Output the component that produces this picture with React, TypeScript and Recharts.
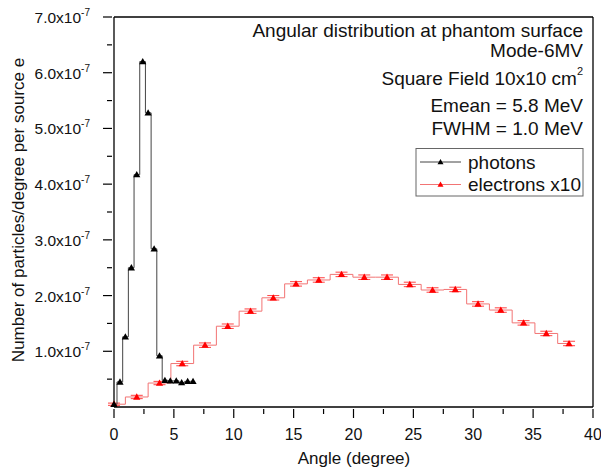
import React from "react";
import { LineChart, Line, XAxis, YAxis, ErrorBar } from "recharts";

// photons: angle (deg) and counts (particles/degree per source electron)
const photonAngles = [0, 0.5, 0.95, 1.45, 1.9, 2.4, 2.85, 3.35, 3.8, 4.25, 4.7, 5.2, 5.65, 6.15, 6.6];
const photonCounts = [
  0.05e-7, 0.45e-7, 1.26e-7, 2.5e-7, 4.17e-7, 6.2e-7, 5.28e-7, 2.84e-7,
  0.92e-7, 0.48e-7, 0.47e-7, 0.47e-7, 0.44e-7, 0.46e-7, 0.46e-7,
];

// electrons (already multiplied by 10 in the source plot)
const electronAngles = [
  0, 1.9, 3.8, 5.7, 7.6, 9.5, 11.4, 13.3, 15.2, 17.1, 19.0,
  20.9, 22.8, 24.7, 26.6, 28.5, 30.4, 32.3, 34.2, 36.1, 38.0,
];
const electronCounts = [
  0.05e-7, 0.18e-7, 0.43e-7, 0.78e-7, 1.11e-7, 1.45e-7, 1.72e-7, 1.96e-7, 2.21e-7, 2.28e-7, 2.38e-7,
  2.33e-7, 2.33e-7, 2.2e-7, 2.1e-7, 2.11e-7, 1.85e-7, 1.74e-7, 1.51e-7, 1.32e-7, 1.14e-7,
];
const electronErrors = [
  0.02e-7, 0.03e-7, 0.03e-7, 0.04e-7, 0.04e-7, 0.04e-7, 0.04e-7, 0.04e-7, 0.04e-7, 0.04e-7, 0.04e-7,
  0.04e-7, 0.04e-7, 0.04e-7, 0.04e-7, 0.04e-7, 0.04e-7, 0.04e-7, 0.04e-7, 0.04e-7, 0.04e-7,
];

const xTicks = [0, 2.5, 5, 7.5, 10, 12.5, 15, 17.5, 20, 22.5, 25, 27.5, 30, 32.5, 35, 37.5, 40];
const yTicks = [
  0.5e-7, 1e-7, 1.5e-7, 2e-7, 2.5e-7, 3e-7, 3.5e-7, 4e-7,
  4.5e-7, 5e-7, 5.5e-7, 6e-7, 6.5e-7, 7e-7,
];

const annotations = [
  "Angular distribution at phantom surface",
  "Mode-6MV",
  "Square Field 10x10 cm",
  "Emean = 5.8 MeV",
  "FWHM = 1.0 MeV",
];

const photonData = photonAngles.map((a, i) => ({ x: a, y: photonCounts[i] }));
const electronData = electronAngles.map((a, i) => ({ x: a, y: electronCounts[i], err: electronErrors[i] }));

const FONT = "'Liberation Sans', Arial, sans-serif";
const PHOTON_LINE = "#444";
const ELECTRON_LINE = "#f27474";

const isMajorX = (v: number) => v % 5 === 0;
const isMajorY = (v: number) => Math.round(v * 1e8) % 10 === 0;

const tri = (cx: number, cy: number, s = 3.6) =>
  `M${cx},${cy - s} L${cx + s},${cy + s * 0.75} L${cx - s},${cy + s * 0.75} Z`;

const makeDot = (fill: string) => (p: any) => {
  if (p.cx == null || p.cy == null) return <g key={p.key ?? p.index} />;
  return <path key={p.key ?? p.index} d={tri(p.cx, p.cy)} fill={fill} stroke="none" />;
};

const BottomTick = (props: any) => {
  const { x, y, payload } = props;
  const major = isMajorX(payload.value);
  return (
    <g>
      <line x1={x} x2={x} y1={y} y2={y + (major ? 9 : 5)} stroke="#000" strokeWidth={1.2} />
      {major && (
        <text x={x} y={y + 31} textAnchor="middle" fontSize={16} fill="#111" fontFamily={FONT}>
          {payload.value}
        </text>
      )}
    </g>
  );
};

const TopTick = (props: any) => {
  const { x, y, payload } = props;
  const major = isMajorX(payload.value);
  return <line x1={x} x2={x} y1={y} y2={y + (major ? 9 : 5)} stroke="#000" strokeWidth={1.2} />;
};

const LeftTick = (props: any) => {
  const { x, y, payload } = props;
  const major = isMajorY(payload.value);
  const mant = (payload.value * 1e7).toFixed(1);
  return (
    <g>
      <line x1={x - (major ? 9 : 5)} x2={x} y1={y} y2={y} stroke="#000" strokeWidth={1.2} />
      {major && (
        <text x={x - 22} y={y + 6} textAnchor="end" fontSize={15.5} fill="#111" fontFamily={FONT}>
          {mant}x10
          <tspan dy={-7} fontSize={10}>-7</tspan>
        </text>
      )}
    </g>
  );
};

const RightTick = (props: any) => {
  const { x, y, payload } = props;
  const major = isMajorY(payload.value);
  return <line x1={x - (major ? 9 : 5)} x2={x} y1={y} y2={y} stroke="#000" strokeWidth={1.2} />;
};

export default function App() {
  return (
    <div style={{ position: "relative", width: 601, height: 470, background: "#fff", fontFamily: FONT }}>
      <style>{`body{margin:0}`}</style>
      <LineChart width={601} height={470} margin={{ top: 0, right: 0, bottom: 0, left: 0 }}>
        <XAxis
          xAxisId="bottom"
          dataKey="x"
          type="number"
          domain={[0, 40]}
          ticks={xTicks}
          interval={0}
          height={63}
          tickSize={0}
          tickLine={false}
          tick={<BottomTick />}
          axisLine={{ stroke: "#000", strokeWidth: 1.3 }}
          allowDuplicatedCategory={false}
        />
        <XAxis
          xAxisId="top"
          orientation="top"
          dataKey="x"
          type="number"
          domain={[0, 40]}
          ticks={xTicks}
          interval={0}
          height={17}
          tickSize={0}
          tickLine={false}
          tick={<TopTick />}
          axisLine={{ stroke: "#000", strokeWidth: 1.3 }}
        />
        <YAxis
          yAxisId="left"
          type="number"
          domain={[0, 7e-7]}
          ticks={yTicks}
          interval={0}
          width={114}
          tickSize={0}
          tickLine={false}
          tick={<LeftTick />}
          axisLine={{ stroke: "#000", strokeWidth: 1.3 }}
        />
        <YAxis
          yAxisId="right"
          orientation="right"
          type="number"
          domain={[0, 7e-7]}
          ticks={yTicks}
          interval={0}
          width={8}
          tickSize={0}
          tickLine={false}
          tick={<RightTick />}
          axisLine={{ stroke: "#000", strokeWidth: 1.3 }}
        />
        <Line
          xAxisId="bottom"
          yAxisId="left"
          data={electronData}
          dataKey="y"
          type="step"
          stroke={ELECTRON_LINE}
          strokeWidth={1}
          dot={makeDot("#ff0000")}
          activeDot={false}
          isAnimationActive={false}
        >
          <ErrorBar dataKey="err" width={6} stroke="#ff4040" strokeWidth={1} direction="y" isAnimationActive={false} />
        </Line>
        <Line
          xAxisId="bottom"
          yAxisId="left"
          data={photonData}
          dataKey="y"
          type="step"
          stroke={PHOTON_LINE}
          strokeWidth={1}
          dot={makeDot("#000")}
          activeDot={false}
          isAnimationActive={false}
        />
      </LineChart>
      <svg
        width={601}
        height={470}
        style={{ position: "absolute", left: 0, top: 0, pointerEvents: "none" }}
        fontFamily={FONT}
      >
        {/* axis titles */}
        <text x={24} y={210} transform="rotate(-90 24 210)" textAnchor="middle" fontSize={17} fill="#111">
          Number of particles/degree per source e
        </text>
        <text x={354} y={464} textAnchor="middle" fontSize={17} fill="#111">
          Angle (degree)
        </text>
        {/* annotation block */}
        <text x={583} y={37} textAnchor="end" fontSize={19} fill="#111">{annotations[0]}</text>
        <text x={583} y={57} textAnchor="end" fontSize={19} fill="#111">{annotations[1]}</text>
        <text x={583} y={85} textAnchor="end" fontSize={19} fill="#111">
          {annotations[2]}
          <tspan dy={-10} fontSize={11}>2</tspan>
        </text>
        <text x={583} y={112} textAnchor="end" fontSize={19} fill="#111">{annotations[3]}</text>
        <text x={583} y={135} textAnchor="end" fontSize={19} fill="#111">{annotations[4]}</text>
        {/* legend */}
        <rect x={416} y={148.5} width={167} height={47.5} fill="#fff" stroke="#666" strokeWidth={1} />
        <line x1={420} x2={461} y1={162} y2={162} stroke={PHOTON_LINE} strokeWidth={1} />
        <path d={tri(440.5, 162, 3)} fill="#000" />
        <text x={468} y={168.5} fontSize={19} fill="#111">photons</text>
        <line x1={420} x2={461} y1={184.5} y2={184.5} stroke={ELECTRON_LINE} strokeWidth={1} />
        <path d={tri(440.5, 184.5, 3)} fill="#ff0000" />
        <text x={468} y={191} fontSize={19} fill="#111">electrons x10</text>
      </svg>
    </div>
  );
}
